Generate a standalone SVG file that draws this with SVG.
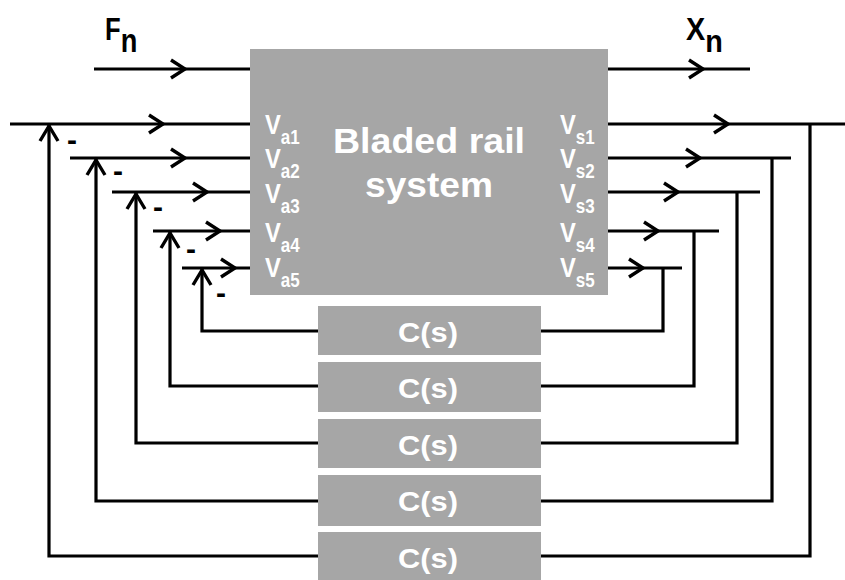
<svg xmlns="http://www.w3.org/2000/svg" xmlns:xlink="http://www.w3.org/1999/xlink" width="845" height="580" viewBox="0 0 845 580">
<style>
.box{fill:#a6a6a6}
.w{fill:#ffffff;font-family:"Liberation Sans",Arial,sans-serif;font-weight:bold}
.k{fill:#000000;font-family:"Liberation Sans",Arial,sans-serif;font-weight:bold}
.ln{fill:none;stroke:#000;stroke-width:3.2;stroke-linejoin:miter}
.ch{fill:none;stroke:#000;stroke-width:3.4;stroke-linejoin:miter}
.v{font-size:28px}
.sub{font-size:20px}
.cs{font-size:28px}
</style>
<defs>
<path id="chevR" d="M-14,-9 L0,0 L-14,9"/>
<path id="chevU" d="M-9,15 L0,0 L9,15"/>
</defs>
<rect width="845" height="580" fill="#fff"/>
<g id="connectors">
<path class="ln" d="M94,69 H250 M608,69 H750"/>
<path class="ln" d="M10,124 H250 M70,158 H250 M112,192 H250 M153,231 H250 M182,268 H250"/>
<path class="ln" d="M49,124 V556 H318 M96,158 V501 H318 M136,192 V443 H318 M170,231 V386 H318 M202,268 V331 H318"/>
<path class="ln" d="M608,124 H845 M608,158 H791 M608,192 H760 M608,231 H719 M608,268 H682"/>
<path class="ln" d="M810,124 V556 H541 M772,158 V501 H541 M737,192 V443 H541 M694,231 V386 H541 M663,268 V331 H541"/>
<g class="ch">
<use xlink:href="#chevR" x="185" y="69"/>
<use xlink:href="#chevR" x="703" y="69"/>
<use xlink:href="#chevR" x="163" y="124"/>
<use xlink:href="#chevR" x="185" y="158"/>
<use xlink:href="#chevR" x="207" y="192"/>
<use xlink:href="#chevR" x="220" y="231"/>
<use xlink:href="#chevR" x="235" y="268"/>
<use xlink:href="#chevR" x="728" y="124"/>
<use xlink:href="#chevR" x="700" y="158"/>
<use xlink:href="#chevR" x="678" y="192"/>
<use xlink:href="#chevR" x="658" y="231"/>
<use xlink:href="#chevR" x="643" y="268"/>
<use xlink:href="#chevU" x="49" y="126"/>
<use xlink:href="#chevU" x="96" y="160"/>
<use xlink:href="#chevU" x="136" y="194"/>
<use xlink:href="#chevU" x="170" y="233"/>
<use xlink:href="#chevU" x="202" y="270"/>
</g>
<g class="k" font-size="30" text-anchor="middle">
<text x="72" y="150">-</text>
<text x="118" y="181">-</text>
<text x="158" y="217">-</text>
<text x="191" y="259">-</text>
<text x="221" y="303">-</text>
</g>
</g>
<g id="label-Fn" class="k">
<text transform="translate(105,40) scale(0.8,1)" font-size="32">F<tspan font-size="34" dy="12">n</tspan></text>
</g>
<g id="label-Xn" class="k">
<text transform="translate(686,40) scale(0.9,1)" font-size="32">X<tspan font-size="32" dy="12">n</tspan></text>
</g>
<g id="bladed-rail-system">
<rect class="box" x="250" y="49" width="358" height="246"/>
<text class="w" x="333" y="153" font-size="35" textLength="192" lengthAdjust="spacingAndGlyphs">Bladed rail</text>
<text class="w" x="365" y="197" font-size="35" textLength="128" lengthAdjust="spacingAndGlyphs">system</text>
<g class="w">
<text class="v" transform="translate(265,134) scale(0.85,1)">V<tspan class="sub" dy="9.5">a1</tspan></text>
<text class="v" transform="translate(265,168) scale(0.85,1)">V<tspan class="sub" dy="9.5">a2</tspan></text>
<text class="v" transform="translate(265,203) scale(0.85,1)">V<tspan class="sub" dy="9.5">a3</tspan></text>
<text class="v" transform="translate(265,242) scale(0.85,1)">V<tspan class="sub" dy="9.5">a4</tspan></text>
<text class="v" transform="translate(265,277) scale(0.85,1)">V<tspan class="sub" dy="9.5">a5</tspan></text>
<text class="v" transform="translate(560,134) scale(0.85,1)">V<tspan class="sub" dy="9.5">s1</tspan></text>
<text class="v" transform="translate(560,168) scale(0.85,1)">V<tspan class="sub" dy="9.5">s2</tspan></text>
<text class="v" transform="translate(560,203) scale(0.85,1)">V<tspan class="sub" dy="9.5">s3</tspan></text>
<text class="v" transform="translate(560,242) scale(0.85,1)">V<tspan class="sub" dy="9.5">s4</tspan></text>
<text class="v" transform="translate(560,277) scale(0.85,1)">V<tspan class="sub" dy="9.5">s5</tspan></text>
</g>
</g>
<g id="C1"><rect class="box" x="318" y="306" width="223" height="49"/><text class="w cs" x="398" y="342" textLength="60" lengthAdjust="spacingAndGlyphs">C(s)</text></g>
<g id="C2"><rect class="box" x="318" y="362" width="223" height="50"/><text class="w cs" x="398" y="398" textLength="60" lengthAdjust="spacingAndGlyphs">C(s)</text></g>
<g id="C3"><rect class="box" x="318" y="419" width="223" height="49"/><text class="w cs" x="398" y="455" textLength="60" lengthAdjust="spacingAndGlyphs">C(s)</text></g>
<g id="C4"><rect class="box" x="318" y="475" width="223" height="51"/><text class="w cs" x="398" y="511" textLength="60" lengthAdjust="spacingAndGlyphs">C(s)</text></g>
<g id="C5"><rect class="box" x="318" y="532" width="223" height="48"/><text class="w cs" x="398" y="568" textLength="60" lengthAdjust="spacingAndGlyphs">C(s)</text></g>
</svg>
